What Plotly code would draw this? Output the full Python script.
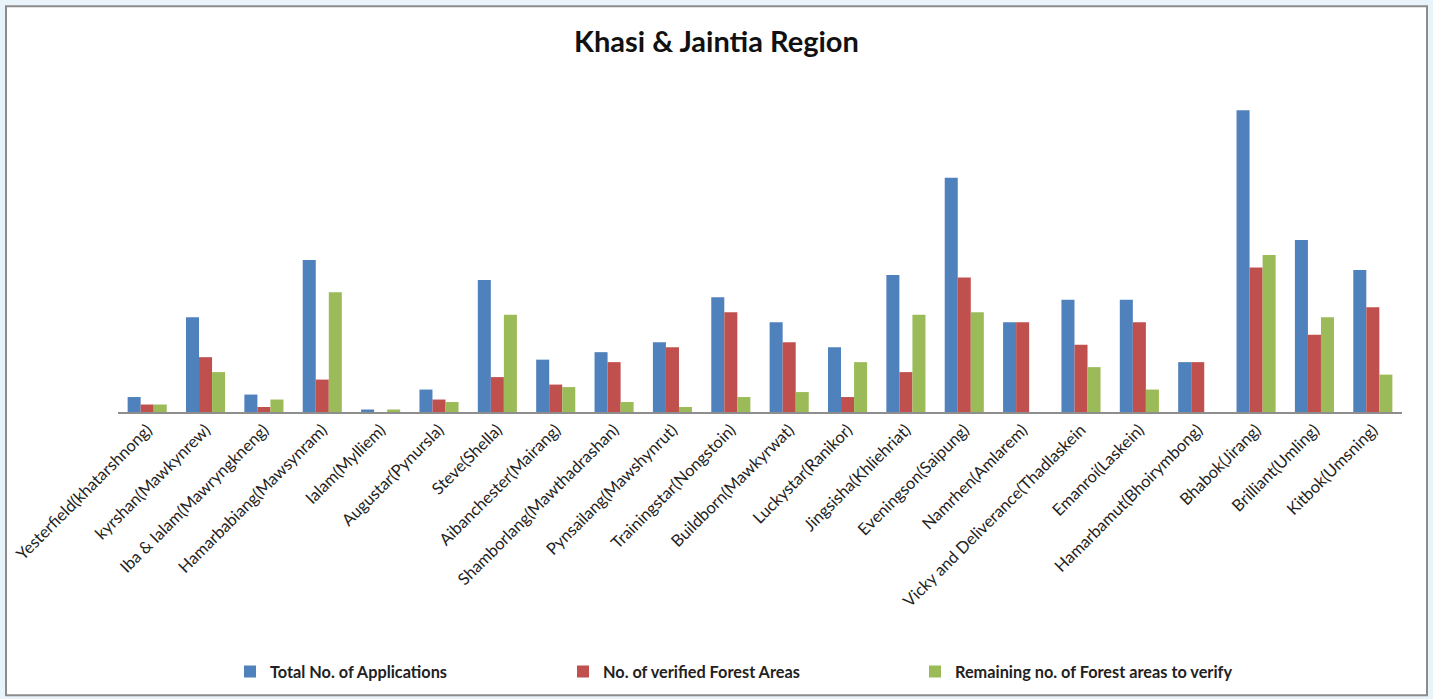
import plotly.graph_objects as go

categories = [
    "Yesterfield(khatarshnong)", "kyrshan(Mawkynrew)", "Iba & Ialam(Mawryngkneng)",
    "Hamarbabiang(Mawsynram)", "Ialam(Mylliem)", "Augustar(Pynursla)", "Steve(Shella)",
    "Aibanchester(Mairang)", "Shamborlang(Mawthadrashan)", "Pynsailang(Mawshynrut)",
    "Trainingstar(Nongstoin)", "Buildborn(Mawkyrwat)", "Luckystar(Ranikor)",
    "Jingsisha(Khliehriat)", "Eveningson(Saipung)", "Namrhen(Amlarem)",
    "Vicky and Deliverance(Thadlaskein", "Emanroi(Laskein)", "Hamarbamut(Bhoirymbong)",
    "Bhabok(Jirang)", "Brilliant(Umling)", "Kitbok(Umsning)",
]
total_applications = [6, 38, 7, 61, 1, 9, 53, 21, 24, 28, 46, 36, 26, 55, 94, 36, 45, 45, 20, 121, 69, 57]
verified_areas = [3, 22, 2, 13, 0, 5, 14, 11, 20, 26, 40, 28, 6, 16, 54, 36, 27, 36, 20, 58, 31, 42]
remaining_areas = [3, 16, 5, 48, 1, 4, 39, 10, 4, 2, 6, 8, 20, 39, 40, 0, 18, 9, 0, 63, 38, 15]

series_names = ["Total No. of Applications", "No. of verified Forest Areas",
                "Remaining no. of Forest areas to verify"]
colors = ["#4F81BD", "#C0504D", "#9BBB59"]
FONT = "Lato"
BG = "#E8F3FA"

W, H = 1433, 699
L, R, T, B = 118, 31, 63, 286
pw, ph = W - L - R, H - T - B

fig = go.Figure()
legend_ids = ["legend", "legend2", "legend3"]
for name, vals, col, lg in zip(series_names, [total_applications, verified_areas, remaining_areas],
                               colors, legend_ids):
    fig.add_trace(go.Bar(x=categories, y=vals, name=name, marker=dict(color=col, line=dict(width=0)),
                         legend=lg, showlegend=True))

def px_to_paper_x(px):
    return (px - L) / pw

def px_to_paper_y(py):
    return (H - B - py) / ph

legend_common = dict(orientation="h", bgcolor="rgba(0,0,0,0)", yanchor="middle", xanchor="left",
                     font=dict(family=FONT, size=16.3, color="#222222", weight="bold"),
                     itemwidth=30, tracegroupgap=0, visible=True)
leg_y = px_to_paper_y(672)

fig.update_layout(
    width=W, height=H,
    margin=dict(l=L, r=R, t=T, b=B, pad=0),
    paper_bgcolor=BG,
    plot_bgcolor="rgba(0,0,0,0)",
    showlegend=True,
    barmode="group",
    bargap=0.33,
    bargroupgap=0,
    title=dict(text="<b>Khasi & Jaintia Region</b>", x=0.5, xref="container", xanchor="center",
               y=1 - 42 / H, yref="container", yanchor="middle",
               font=dict(family=FONT, size=29, color="#111111")),
    xaxis=dict(tickangle=-45, showline=True, linecolor="#8E8E8E", linewidth=1.5,
               ticks="", showgrid=False, tickfont=dict(family=FONT, size=16.5, color="#222222"),
               automargin=False),
    yaxis=dict(range=[0, 140], visible=False, showgrid=False, zeroline=False),
    legend=dict(x=px_to_paper_x(230), y=leg_y, **legend_common),
    legend2=dict(x=px_to_paper_x(563), y=leg_y, **legend_common),
    legend3=dict(x=px_to_paper_x(915), y=leg_y, **legend_common),
    shapes=[dict(type="rect", xref="paper", yref="paper",
                 x0=px_to_paper_x(6), x1=px_to_paper_x(1427),
                 y0=px_to_paper_y(697), y1=px_to_paper_y(6),
                 fillcolor="white", line=dict(color="#8C8C8C", width=2), layer="below")],
)

fig.write_html(
    "out.html",
    config={"displayModeBar": False},
    post_script="document.body.style.margin='0';document.body.style.background='" + BG + "';",
)
